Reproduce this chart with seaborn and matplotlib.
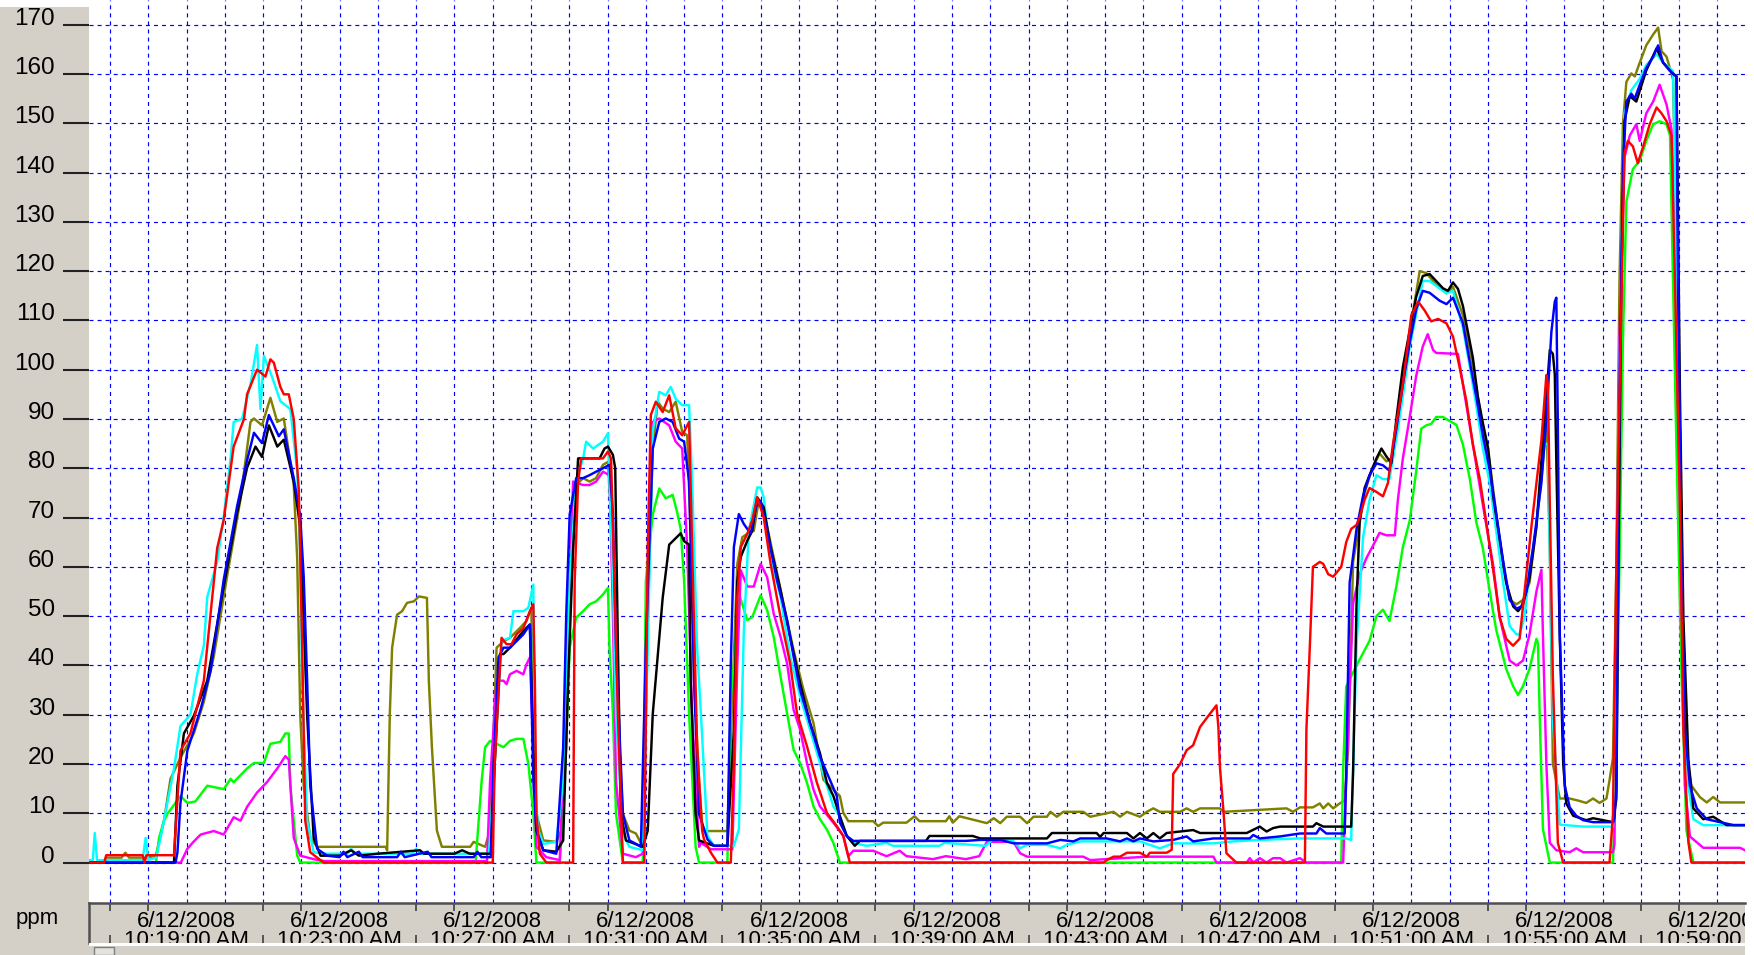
import matplotlib
matplotlib.use("Agg")
import matplotlib.pyplot as plt
import matplotlib.dates as mdates
from matplotlib.patches import Rectangle
import pandas as pd
import seaborn as sns

START = pd.Timestamp("2008-06-12 10:00:00")

# (minutes after 10:00, ppm)
olive = [(16.45, 0), (16.8, 0), (16.9, 1), (17.3, 1), (17.4, 2), (17.5, 1), (18.0, 1), (18.2, 1.5), (18.41, 8.5), (18.58, 17),
         (18.84, 21.3), (19.19, 26.2), (19.45, 32.6), (19.71, 41.8), (20.06, 58.2), (20.41, 73.8), (20.67, 89.4), (20.76, 90.1),
         (20.97, 88.7), (21.19, 94.3), (21.37, 89.4), (21.54, 90.1), (21.80, 76.6), (21.89, 61.7), (21.97, 29.8), (22.06, 15.6),
         (22.23, 5), (22.41, 3.2), (24.20, 3.2), (24.24, 2.5), (24.31, 30.1), (24.37, 43.6), (24.50, 50.3), (24.63, 51), (24.76, 52.7),
         (24.94, 53), (25.07, 54), (25.28, 53.7), (25.33, 36.9), (25.41, 23.4), (25.54, 6.5), (25.67, 3.2), (26.41, 3.2), (26.50, 4.2),
         (26.80, 3.2), (26.93, 6.5), (27.10, 43.6), (27.28, 44.9), (27.45, 45.6), (27.71, 47.6), (27.88, 49), (28.01, 51.7),
         (28.06, 23.4), (28.14, 9.9), (28.32, 4.5), (28.66, 4.2), (28.79, 6.5), (28.92, 23.4), (29.01, 50.3), (29.18, 76.6),
         (29.36, 78), (29.53, 77.3), (29.70, 78), (29.88, 80.7), (30.01, 81.3), (30.14, 63.8), (30.22, 36.9), (30.40, 9.9),
         (30.57, 6.5), (30.74, 5.9), (30.92, 3.2), (31.05, 50.3), (31.18, 84), (31.31, 93.5), (31.44, 92.1), (31.61, 91.4),
         (31.78, 93.5), (31.95, 87.4), (32.08, 86.7), (32.17, 67.2), (32.26, 36.9), (32.39, 16.6), (32.47, 7.9), (32.52, 6.4),
         (33.13, 6.4), (33.26, 33.7), (33.39, 60.6), (33.52, 66), (33.65, 66.7), (33.82, 67.3), (33.95, 73.4), (34.08, 71.4),
         (34.34, 62), (34.60, 52.5), (34.86, 43.1), (35.12, 35), (35.38, 28.3), (35.64, 16.8), (35.90, 14.8), (36.07, 13.5),
         (36.16, 10.1), (36.29, 8.4), (36.94, 8.4), (37.07, 7.4), (37.20, 8.1), (37.81, 8.1), (38.02, 9.4), (38.15, 8.4),
         (38.84, 8.4), (38.93, 9.4), (39.02, 8.1), (39.19, 9.4), (39.91, 8), (40.09, 9), (40.26, 8), (40.43, 9.3), (40.78, 9.3),
         (40.96, 8), (41.13, 9.3), (41.48, 9.3), (41.57, 10.3), (41.74, 9.3), (41.91, 10.3), (42.43, 10.3), (42.61, 9.3),
         (43.22, 10.3), (43.39, 9.3), (43.57, 10.3), (43.91, 9.3), (44.09, 10.3), (44.26, 11), (44.43, 10.3), (44.96, 10.3),
         (45.13, 11), (45.30, 10.3), (45.48, 11), (46.0, 11), (46.09, 10.3), (47.74, 11), (47.91, 10.3), (48.09, 11.2),
         (48.43, 11.2), (48.61, 12), (48.70, 11), (48.83, 12), (48.96, 11), (49.13, 12), (49.26, 12.6), (49.35, 23), (49.48, 61),
         (49.65, 69), (49.78, 75), (49.96, 79.5), (50.17, 83), (50.35, 81.4), (50.52, 82.2), (50.70, 94.6), (50.87, 103),
         (51.04, 111.4), (51.22, 120), (51.39, 119.6), (51.65, 117.3), (51.92, 115.5), (52.09, 116.8), (52.35, 111), (52.61, 100.6),
         (52.87, 88.3), (53.05, 81.3), (53.22, 70.8), (53.40, 60.3), (53.57, 53.3), (53.75, 52.4), (53.92, 53.3), (54.09, 56.8),
         (54.27, 68.2), (54.44, 81.3), (54.53, 90.1), (54.62, 63.8), (54.70, 20), (54.88, 13), (55.14, 13), (55.40, 12.5),
         (55.57, 12.1), (55.75, 13), (55.92, 12.1), (56.10, 13), (56.18, 16.7), (56.27, 21.3), (56.36, 61.1), (56.44, 118),
         (56.53, 149.8), (56.62, 158.4), (56.75, 160.1), (56.84, 159.5), (56.97, 162.3), (57.14, 165.8), (57.32, 168),
         (57.45, 169.4), (57.54, 164.6), (57.67, 163.5), (57.84, 158.9), (57.89, 140.7), (57.93, 95.2), (58.02, 61.1),
         (58.11, 38.3), (58.19, 21.3), (58.32, 15.6), (58.54, 13.3), (58.72, 12.2), (58.89, 13.3), (59.07, 12.2), (59.72, 12.2)]

green = [(16.45, 0), (18.20, 0), (18.28, 5), (18.41, 8.5), (18.50, 9.9), (18.84, 13.5), (19.02, 12.1), (19.23, 12.4), (19.54, 15.6),
         (19.97, 14.9), (20.15, 17), (20.23, 16.3), (20.58, 19.1), (20.76, 20.2), (21.02, 20.2), (21.19, 24.1), (21.45, 24.5),
         (21.58, 26.2), (21.67, 26.2), (21.71, 15.6), (21.89, 1.4), (21.97, 0), (26.55, 0), (26.71, 16.6), (26.80, 23.4),
         (26.93, 24.7), (27.10, 24.1), (27.28, 23.4), (27.45, 24.7), (27.62, 25.1), (27.80, 25.1), (27.93, 20), (28.06, 9.9),
         (28.14, 0), (28.75, 0), (28.84, 9.9), (29.01, 43.6), (29.18, 49.7), (29.36, 51), (29.53, 52.4), (29.70, 53), (29.88, 54.4),
         (30.01, 55.7), (30.05, 43.6), (30.14, 30.1), (30.22, 9.9), (30.40, 0), (30.92, 0), (31.0, 57.1), (31.18, 70.6),
         (31.35, 75.9), (31.52, 73.9), (31.70, 74.6), (31.82, 71), (31.91, 67.7), (32.0, 57.1), (32.13, 30.1), (32.30, 3.2),
         (32.39, 0), (33.13, 0), (33.22, 33.7), (33.46, 53.9), (33.65, 49.2), (33.78, 49.8), (34.0, 54.2), (34.17, 51.2),
         (34.34, 45.8), (34.52, 37.7), (34.69, 30.3), (34.86, 22.9), (35.03, 20.2), (35.21, 16.2), (35.38, 11.4), (35.55, 8.8),
         (35.73, 6.7), (35.90, 4), (36.07, 0), (49.17, 0), (49.22, 18.9), (49.30, 35.7), (49.57, 40), (49.74, 42.5), (49.91, 45),
         (50.09, 50), (50.26, 51.3), (50.43, 49), (50.61, 56), (50.78, 64), (50.96, 69.4), (51.13, 79.5), (51.26, 88), (51.39, 88.7),
         (51.52, 89), (51.65, 90.4), (51.83, 90.4), (52.0, 89.6), (52.18, 88.8), (52.35, 84.8), (52.53, 77.8), (52.70, 69),
         (52.87, 63.8), (53.05, 55), (53.22, 47.2), (53.48, 39.3), (53.66, 35.8), (53.79, 34), (53.92, 35.8), (54.09, 39.3),
         (54.27, 45.4), (54.31, 44.5), (54.36, 28.7), (54.44, 6.8), (54.62, 0), (56.27, 0), (56.36, 26.2), (56.44, 60.3),
         (56.53, 105.8), (56.62, 134.1), (56.79, 140.7), (56.97, 142.4), (57.14, 146.4), (57.32, 149.8), (57.49, 150.4),
         (57.67, 149.8), (57.76, 147.5), (57.84, 117.9), (57.93, 83.8), (58.06, 38.3), (58.19, 6.5), (58.37, 0), (59.72, 0)]

magenta = [(16.45, 0), (18.85, 0), (19.02, 2.8), (19.19, 4.3), (19.37, 5.7), (19.71, 6.4), (19.97, 5.7), (20.23, 9.2), (20.41, 8.5),
           (20.58, 11.3), (20.84, 14.2), (21.10, 16.3), (21.37, 19.1), (21.58, 21.6), (21.67, 20.9), (21.80, 5), (21.97, 1.4),
           (22.32, 0.7), (22.6, 0.3), (26.85, 0.3), (26.93, 16.6), (27.10, 36.9), (27.28, 36.9), (27.36, 36.2), (27.45, 38.2),
           (27.62, 38.9), (27.80, 38.2), (27.88, 40.2), (27.97, 41.6), (28.06, 23.4), (28.14, 3.2), (28.40, 1.1), (28.75, 0.5),
           (28.92, 36.9), (29.10, 77.3), (29.36, 76.6), (29.53, 76.6), (29.70, 77.3), (29.88, 79.3), (30.05, 78.6), (30.14, 50.3),
           (30.22, 16.6), (30.40, 1.8), (30.74, 1.1), (30.92, 1.8), (31.0, 43.6), (31.18, 89.4), (31.35, 90.1), (31.61, 88.7),
           (31.78, 85.4), (31.95, 84), (32.08, 63.8), (32.21, 30.1), (32.39, 3.2), (32.44, 4), (32.70, 2.7), (33.26, 2.7),
           (33.39, 40.4), (33.48, 59.3), (33.65, 56), (33.82, 56), (34.0, 60.6), (34.17, 57.9), (34.34, 50.5), (34.52, 45.8),
           (34.69, 40.4), (34.86, 31), (35.03, 27), (35.21, 20.2), (35.38, 14.8), (35.55, 11.4), (35.90, 8.1), (36.16, 5.4),
           (36.29, 1.3), (36.42, 2.4), (36.94, 2.4), (37.29, 1.3), (37.63, 2.4), (37.81, 1.3), (38.50, 0.7), (38.84, 1.3),
           (39.36, 0.7), (39.71, 1.3), (39.80, 2.6), (39.91, 4.2), (40.61, 4.2), (40.78, 1.9), (40.96, 1.2), (42.43, 1.2),
           (42.61, 0.5), (44.09, 1.2), (45.83, 1.2), (45.91, 0), (46.70, 0), (46.78, 0.9), (46.87, 0), (47.04, 0.9), (47.22, 0),
           (47.39, 0.9), (47.57, 0.9), (47.74, 0), (48.09, 0.9), (48.26, 0), (49.22, 0), (49.35, 27), (49.48, 52.6), (49.65, 58.5),
           (49.83, 61.8), (50.0, 64.3), (50.17, 66.9), (50.35, 66.4), (50.57, 66.4), (50.65, 73.6), (50.78, 82), (50.96, 90.4),
           (51.13, 98.8), (51.30, 104.7), (51.43, 107.2), (51.57, 104), (51.65, 103.4), (52.22, 103.2), (52.35, 97), (52.61, 84.8),
           (52.87, 72.6), (53.14, 60.3), (53.31, 49.8), (53.57, 41), (53.75, 40), (53.92, 41), (54.09, 46.3), (54.27, 55),
           (54.40, 59.4), (54.44, 46.3), (54.53, 20), (54.62, 4), (54.79, 2.5), (55.14, 2.1), (55.31, 2.9), (55.49, 2.1),
           (56.27, 2.1), (56.31, 3.7), (56.36, 49), (56.44, 106), (56.57, 143), (56.71, 147.5), (56.88, 149.8), (56.97, 146.4),
           (57.14, 152), (57.32, 154.4), (57.49, 157.8), (57.67, 153.8), (57.80, 148.7), (57.89, 129.4), (58.02, 72.5),
           (58.15, 15.6), (58.28, 5.3), (58.63, 3), (59.59, 3), (59.72, 2.5)]

cyan = [(16.45, 0.5), (16.55, 0.5), (16.60, 6), (16.66, 0.5), (17.85, 0.5), (17.93, 5), (18.0, 0.5), (18.20, 1), (18.32, 5),
        (18.67, 19), (18.84, 27.7), (19.10, 30), (19.28, 38.3), (19.45, 44), (19.54, 53.9), (19.80, 61), (19.97, 70.2), (20.15, 82),
        (20.23, 89.4), (20.45, 90), (20.67, 97), (20.84, 105), (20.93, 92), (21.02, 102.8), (21.23, 98.6), (21.45, 93.6),
        (21.71, 92), (21.89, 79.4), (21.97, 61.7), (22.02, 36.9), (22.15, 8.5), (22.32, 2.1), (22.6, 1.8), (23.2, 1.8), (23.3, 2.8),
        (23.4, 1.8), (24.9, 1.8), (25.0, 2.8), (25.1, 1.8), (26.9, 1.8), (26.97, 10), (27.23, 45), (27.45, 45.6), (27.54, 51),
        (27.80, 51), (27.93, 51.7), (28.06, 56.4), (28.10, 16.6), (28.19, 6.5), (28.32, 3.8), (28.66, 4.2), (28.84, 16.6),
        (29.01, 57.1), (29.18, 77.3), (29.36, 82), (29.44, 85.4), (29.62, 84), (29.88, 85.4), (30.01, 87.1), (30.05, 77.3),
        (30.14, 57.1), (30.22, 30.1), (30.40, 5.9), (30.57, 3.2), (30.92, 2.5), (31.05, 43.6), (31.18, 87.4), (31.35, 95.5),
        (31.52, 94.8), (31.65, 96.5), (31.78, 94.1), (31.95, 92.8), (32.13, 92.8), (32.21, 77.3), (32.34, 43.6), (32.44, 30),
        (32.61, 5.4), (32.78, 3.4), (33.30, 3.4), (33.43, 6.7), (33.56, 47), (33.69, 67.3), (33.91, 76.1), (34.0, 76.1),
        (34.08, 74.1), (34.26, 62), (34.52, 53.9), (34.77, 41.8), (35.03, 33.7), (35.29, 27), (35.55, 20.2), (35.90, 11.4),
        (36.07, 9.4), (36.25, 5.4), (36.42, 4), (36.77, 3.4), (37.29, 4), (37.46, 3.4), (38.67, 3.4), (38.80, 4), (39.88, 3.4),
        (40.06, 4.7), (40.61, 4.3), (40.78, 2.9), (40.96, 3.6), (41.48, 3.6), (41.83, 2.9), (42.0, 3.6), (42.35, 4.3),
        (43.91, 4.3), (44.43, 2.9), (44.78, 3.9), (45.83, 3.9), (46.35, 4.3), (47.04, 4.6), (48.09, 4.9), (49.30, 4.9),
        (49.43, 4.6), (49.48, 19), (49.57, 44), (49.74, 66), (49.91, 73.6), (50.09, 78.6), (50.26, 77.8), (50.43, 77.8),
        (50.61, 86), (50.78, 94.6), (50.96, 104.7), (51.13, 111.4), (51.30, 118), (51.48, 118), (51.74, 116.5), (51.92, 115.5),
        (52.09, 116), (52.35, 108.5), (52.53, 100.6), (52.70, 92.7), (52.87, 84), (53.05, 77), (53.22, 67.3), (53.40, 56.8),
        (53.57, 48), (53.75, 46.3), (53.83, 46.3), (53.96, 49.8), (54.09, 59.4), (54.27, 68.2), (54.44, 84.8), (54.57, 85),
        (54.62, 63.8), (54.70, 28.7), (54.88, 7.7), (55.49, 7.3), (56.27, 7.3), (56.31, 20.8), (56.40, 77.6), (56.49, 123),
        (56.57, 152), (56.75, 156.7), (56.97, 159), (57.14, 161.8), (57.41, 164), (57.58, 162.3), (57.84, 160.6), (57.89, 140.7),
        (57.97, 95.2), (58.11, 38.3), (58.24, 15.6), (58.37, 8.8), (58.63, 7.6), (59.72, 7.6)]

black = [(16.45, 0), (18.67, 0), (18.76, 15.6), (18.93, 26.2), (19.19, 29.8), (19.54, 36.9), (19.97, 56), (20.32, 70.9),
         (20.58, 80.1), (20.80, 84.4), (20.97, 82.3), (21.15, 88.7), (21.37, 84.4), (21.54, 85.8), (21.80, 77.3), (21.97, 68.1),
         (22.15, 29.8), (22.32, 5), (22.50, 1.4), (23.0, 1.4), (23.3, 2.5), (23.5, 1.4), (24.0, 1.8), (25.1, 2.5), (25.2, 1.8),
         (26.0, 1.8), (26.2, 2.5), (26.4, 1.8), (26.95, 1.8), (27.02, 15), (27.19, 42.3), (27.28, 42.3), (27.45, 43.6), (27.80, 47),
         (27.97, 48.3), (28.06, 23.4), (28.14, 6.5), (28.32, 2.5), (28.66, 2.2), (28.84, 4.5), (28.97, 36.9), (29.10, 63.8),
         (29.23, 82), (29.79, 82), (29.92, 84), (30.01, 84.4), (30.14, 82.7), (30.20, 80), (30.27, 43.6), (30.35, 9.9), (30.48, 4.5),
         (30.92, 3.2), (31.05, 6.5), (31.18, 30.1), (31.44, 53.7), (31.61, 64.5), (31.78, 65.8), (31.91, 66.8), (32.0, 65.2),
         (32.13, 64.5), (32.17, 36.9), (32.30, 9.9), (32.39, 4.5), (32.78, 3.4), (33.13, 3.4), (33.30, 26.9), (33.39, 57.2),
         (33.48, 62), (33.65, 65.3), (33.78, 67.3), (33.91, 74.1), (34.08, 72.1), (34.26, 64), (34.52, 55.2), (34.77, 45.8),
         (35.03, 36.4), (35.29, 28.3), (35.55, 22.2), (35.73, 16.2), (35.90, 13.5), (36.07, 9.4), (36.25, 5.4), (36.46, 3.4),
         (36.59, 4.4), (38.32, 4.4), (38.41, 5.4), (39.54, 5.4), (39.74, 4.9), (41.48, 4.9), (41.61, 6), (42.78, 6), (42.87, 5.2),
         (42.96, 6), (43.57, 6), (43.74, 4.9), (43.91, 6), (44.09, 4.9), (44.26, 6), (44.43, 4.9), (44.61, 6), (45.30, 6.6),
         (45.48, 6), (46.70, 6), (47.04, 7.3), (47.22, 6.3), (47.39, 7), (47.57, 7.3), (48.43, 7.3), (48.52, 8), (48.70, 7.3),
         (49.43, 7.3), (49.48, 18.5), (49.57, 52.6), (49.65, 69), (49.78, 76), (49.91, 78.6), (50.09, 82), (50.22, 84),
         (50.35, 82.4), (50.48, 81), (50.61, 90), (50.78, 100.5), (50.96, 108), (51.13, 114.8), (51.30, 119), (51.48, 119.4),
         (51.65, 118), (51.83, 116.5), (51.96, 116), (52.09, 117.7), (52.22, 116.4), (52.35, 112.9), (52.48, 107.6),
         (52.61, 102.4), (52.74, 94.5), (52.87, 89.2), (53.01, 84), (53.14, 74.3), (53.31, 65.6), (53.48, 56.8), (53.66, 52),
         (53.79, 51), (53.92, 52.4), (54.09, 57.7), (54.27, 68.2), (54.40, 81.3), (54.53, 94.5), (54.62, 104), (54.70, 103.2),
         (54.75, 99), (54.79, 81.3), (54.88, 46), (54.97, 20), (55.05, 12), (55.23, 9.5), (55.57, 8.6), (55.75, 9), (56.27, 8.2),
         (56.36, 13), (56.40, 50.4), (56.49, 118.5), (56.57, 150.4), (56.71, 155.5), (56.88, 154.4), (57.14, 160.7),
         (57.41, 165.2), (57.58, 162.3), (57.84, 160), (57.93, 159.5), (58.02, 95), (58.11, 49.6), (58.24, 21), (58.37, 11),
         (58.63, 8.8), (58.89, 9.3), (59.24, 7.6), (59.72, 7.6)]

blue = [(16.45, 0), (18.71, 0), (18.76, 2), (18.84, 12.1), (19.02, 22.7), (19.37, 31.2), (19.63, 39), (19.97, 57.4), (20.32, 72.3),
        (20.58, 81.6), (20.76, 87.2), (20.97, 85.1), (21.15, 90.8), (21.41, 86.5), (21.54, 87.9), (21.80, 78), (21.97, 70.2),
        (22.06, 58), (22.15, 36.9), (22.23, 15.6), (22.41, 2.8), (22.67, 1.4), (23.0, 1.1), (23.1, 2.2), (23.2, 1.1), (23.5, 2.2),
        (23.6, 1.1), (24.5, 1.1), (24.6, 2.2), (24.7, 1.1), (25.3, 2.2), (25.4, 1.1), (26.5, 1.1), (26.6, 2.2), (26.7, 1.1),
        (26.95, 1.1), (27.02, 20), (27.15, 41.6), (27.28, 43.6), (27.45, 43.6), (27.62, 44.9), (27.80, 46.3), (27.97, 48.3),
        (28.06, 16.6), (28.14, 6.5), (28.32, 2.5), (28.66, 1.8), (28.84, 23.4), (28.92, 50.3), (29.01, 70.6), (29.18, 78),
        (29.36, 78), (29.53, 78.6), (29.70, 79.3), (29.88, 80), (30.05, 80.7), (30.14, 70.6), (30.22, 43.6), (30.40, 9.9),
        (30.57, 4.5), (30.74, 3.8), (30.87, 3.2), (31.0, 43.6), (31.18, 84), (31.35, 89.4), (31.52, 90.1), (31.70, 89.4),
        (31.87, 86), (32.0, 85.4), (32.13, 77.3), (32.26, 36.9), (32.39, 9.9), (32.61, 4.7), (32.78, 3.4), (33.13, 3.4),
        (33.22, 40.4), (33.30, 64), (33.43, 70.7), (33.56, 68.7), (33.74, 66.7), (33.87, 72.1), (34.0, 73.4), (34.17, 67.3),
        (34.43, 57.2), (34.69, 49.2), (34.86, 41.8), (35.03, 35), (35.29, 28.3), (35.55, 21.5), (35.81, 16.8), (35.99, 13.5),
        (36.07, 8.1), (36.25, 5.4), (36.42, 4.4), (39.36, 4.4), (39.74, 4.6), (40.26, 4.6), (40.61, 3.9), (41.48, 3.9),
        (41.83, 4.6), (42.17, 4.3), (42.35, 4.9), (43.04, 4.9), (43.39, 4.3), (43.57, 4.9), (43.74, 4.3), (43.91, 4.9),
        (44.26, 4.3), (44.78, 4.6), (45.13, 5.3), (45.30, 4.3), (45.83, 4.9), (46.78, 4.9), (46.87, 5.6), (47.04, 4.9),
        (47.57, 5.3), (48.09, 5.9), (48.52, 5.9), (48.61, 7), (48.78, 5.9), (49.26, 5.9), (49.30, 18), (49.39, 56.8),
        (49.57, 67.7), (49.74, 74.4), (49.91, 78.6), (50.09, 81), (50.26, 80.6), (50.43, 79.5), (50.61, 88), (50.78, 97),
        (50.96, 105.5), (51.13, 112.3), (51.30, 116), (51.48, 115.6), (51.74, 114), (51.92, 113.3), (52.09, 114.6),
        (52.35, 109.4), (52.53, 101.5), (52.70, 94.5), (52.87, 86.6), (53.05, 79.6), (53.22, 70.8), (53.40, 61.2), (53.57, 53.3),
        (53.75, 51.5), (53.88, 52), (54.01, 55), (54.18, 63.8), (54.40, 77), (54.53, 90), (54.66, 107.6), (54.75, 113.8),
        (54.79, 114.6), (54.83, 88.5), (54.88, 46.3), (55.01, 15.6), (55.14, 11.2), (55.31, 9.5), (55.49, 8.6), (55.75, 8.2),
        (56.27, 8.2), (56.31, 9), (56.36, 15.6), (56.44, 95), (56.53, 140.7), (56.62, 154.4), (56.75, 156), (56.84, 155),
        (56.97, 157.8), (57.14, 161.2), (57.32, 163.5), (57.45, 165.8), (57.58, 162.3), (57.76, 160.6), (57.93, 159.5),
        (57.97, 117.8), (58.06, 61), (58.15, 27), (58.28, 15.6), (58.46, 11), (58.72, 8.8), (59.07, 8.2), (59.42, 7.6), (59.72, 7.6)]

red = [(16.45, 0), (16.85, 0), (16.9, 1.5), (17.85, 1.5), (17.9, 0), (17.95, 1.5), (18.62, 1.5), (18.67, 1.4), (18.84, 22.7),
       (19.10, 26.2), (19.45, 36.9), (19.80, 63.8), (19.97, 69.5), (20.23, 84.4), (20.50, 90), (20.58, 95), (20.84, 100),
       (21.06, 98.6), (21.19, 102.1), (21.28, 101.4), (21.45, 96.5), (21.54, 95), (21.67, 95), (21.80, 90), (21.93, 75.9),
       (22.02, 44), (22.10, 8.5), (22.23, 2.1), (22.58, 0), (27.0, 0), (27.05, 20), (27.23, 45.6), (27.36, 44.3), (27.49, 44.3),
       (27.62, 46.3), (27.80, 47.6), (27.97, 51), (28.06, 52.4), (28.10, 36.9), (28.14, 9.9), (28.23, 1.8), (28.40, 0), (29.10, 0),
       (29.14, 57), (29.23, 77.3), (29.31, 82), (29.88, 82), (30.01, 83.4), (30.09, 82), (30.18, 57), (30.27, 30.1), (30.40, 0),
       (30.96, 0), (31.05, 63.8), (31.13, 90.8), (31.26, 93.5), (31.44, 91.4), (31.61, 94.8), (31.78, 88.1), (31.95, 86.7),
       (32.13, 89.4), (32.21, 63.8), (32.34, 23.4), (32.47, 6.5), (32.52, 4.7), (32.70, 2), (32.87, 0), (33.22, 0), (33.30, 20.2),
       (33.39, 53.9), (33.48, 64), (33.65, 66.7), (33.78, 69.4), (33.91, 74.1), (34.08, 70), (34.26, 60.6), (34.52, 49.8),
       (34.77, 40.4), (34.95, 30.3), (35.21, 23.6), (35.47, 16.2), (35.73, 10.1), (35.99, 7.4), (36.16, 5.4), (36.33, 0),
       (42.96, 0), (43.04, 0.5), (43.22, 1.2), (43.39, 1.2), (43.57, 2), (43.91, 2), (44.09, 1.2), (44.17, 2), (44.61, 2),
       (44.74, 2.6), (44.78, 18), (44.96, 20), (45.13, 22.8), (45.30, 23.8), (45.48, 27.5), (45.74, 30.2), (45.91, 31.9),
       (45.96, 27.5), (46.0, 19.4), (46.09, 10.7), (46.17, 1.9), (46.43, 0), (48.22, 0), (48.26, 27), (48.35, 44), (48.43, 60),
       (48.61, 61), (48.70, 60.6), (48.83, 58.5), (48.96, 58), (49.17, 60), (49.30, 65), (49.43, 67.7), (49.57, 68.5),
       (49.65, 70), (49.78, 73.6), (49.91, 76), (50.09, 75.2), (50.26, 74.3), (50.39, 77), (50.52, 84.8), (50.78, 97), (51.0, 111),
       (51.18, 113.8), (51.35, 112), (51.52, 109.8), (51.70, 110.3), (51.92, 109.4), (52.09, 106.7), (52.26, 100.6),
       (52.44, 93.6), (52.61, 84.8), (52.79, 77.8), (52.96, 69), (53.14, 59.4), (53.31, 49.8), (53.48, 45.4), (53.66, 44),
       (53.83, 45.4), (53.96, 55), (54.14, 68.2), (54.40, 85.7), (54.53, 98.9), (54.57, 97), (54.62, 72.6), (54.70, 37.5),
       (54.83, 4), (54.97, 0), (56.18, 0), (56.27, 9.7), (56.36, 60.9), (56.44, 95), (56.57, 144), (56.66, 146.4), (56.79, 145.3),
       (56.92, 141.9), (57.06, 145.3), (57.23, 149.8), (57.41, 153.2), (57.54, 152), (57.67, 150.4), (57.80, 147.5),
       (57.89, 117.9), (58.02, 72.4), (58.11, 27), (58.24, 4.2), (58.32, 0), (59.72, 0)]

colors = {"olive": "#808000", "green": "#00FF00", "magenta": "#FF00FF", "cyan": "#00FFFF",
          "black": "#000000", "blue": "#0000FF", "red": "#FF0000"}
traces = {"olive": olive, "green": green, "magenta": magenta, "cyan": cyan,
          "black": black, "blue": blue, "red": red}

frames = []
for name, pts in traces.items():
    d = pd.DataFrame(pts, columns=["minute", "ppm"])
    d["sensor"] = name
    frames.append(d)
df = pd.concat(frames, ignore_index=True)
df["time"] = START + pd.to_timedelta(df["minute"], unit="min")

W, H = 1754, 955
PANEL = "#D4D0C8"


def box(x0, y0, x1, y1):
    # pixel box (top-left origin) -> figure fraction rect
    return [x0 / W, 1 - y1 / H, (x1 - x0) / W, (y1 - y0) / H]


plt.rcParams["font.family"] = ["Liberation Sans Narrow", "Liberation Sans", "DejaVu Sans"]
plt.rcParams["lines.scale_dashes"] = False

fig = plt.figure(figsize=(W / 100, H / 100), dpi=100, facecolor="white")
fig.add_artist(Rectangle((0, 0), 89 / W, 1 - 7 / H, transform=fig.transFigure,
                         facecolor=PANEL, edgecolor="none", zorder=-5))

# main plot
ax = fig.add_axes(box(89, 0, 1745, 903))
sns.lineplot(data=df, x="time", y="ppm", hue="sensor", hue_order=list(colors), palette=colors,
             estimator=None, sort=False, linewidth=1.75, legend=False, ax=ax)
xlim = (START + pd.Timedelta(minutes=16.45), START + pd.Timedelta(minutes=59.72))
ax.set_xlim(xlim)
ax.set_ylim(-8.2, 175)
ax.set_yticks(range(0, 171, 10))
ax.xaxis.set_major_locator(mdates.MinuteLocator())
ax.grid(True, color="#0000FF", linestyle=(0, (2.9, 2.9)), linewidth=0.85)
ax.tick_params(axis="x", length=0, labelbottom=False)
ax.tick_params(axis="y", length=18.7, width=1.5, pad=5.8, direction="out",
               color="#222222", labelsize=17.5, labelcolor="black")
for t in ax.yaxis.get_major_ticks():
    t.label1.set_verticalalignment("baseline")
for s in ax.spines.values():
    s.set_visible(False)
ax.set_xlabel("")
ax.set_ylabel("")

# bottom time strip
strip = fig.add_axes(box(89, 903, 1745, 943), facecolor=PANEL)
strip.set_xlim(xlim)
strip.set_ylim(0, 1)
strip.set_yticks([])
strip.xaxis.set_major_locator(mdates.MinuteLocator(byminute=range(1, 60, 4)))
strip.xaxis.set_minor_locator(mdates.MinuteLocator(byminute=range(2, 60, 4)))
strip.tick_params(which="major", direction="in", top=True, bottom=True, length=5.5,
                  width=1.2, color="#404040", labelbottom=False)
strip.tick_params(which="minor", direction="in", top=True, bottom=False, length=5.5,
                  width=1.2, color="#404040")
for s in ["right", "bottom"]:
    strip.spines[s].set_visible(False)
for s in ["top", "left"]:
    strip.spines[s].set_color("#505050")
    strip.spines[s].set_linewidth(1.8)

# clipped two-line time labels
lab = fig.add_axes(box(89, 911, 1745, 943))
lab.set_xlim(xlim)
lab.set_axis_off()
label_times = pd.date_range(START + pd.Timedelta(minutes=19), START + pd.Timedelta(minutes=59), freq="4min")
for ts in label_times:
    xv = mdates.date2num(ts)
    lab.text(xv, (943 - 927) / 32, f"{ts.month}/{ts.day}/{ts.year}",
             transform=lab.get_xaxis_transform(), ha="center", va="baseline",
             fontsize=16, clip_on=True)
    lab.text(xv, (943 - 946) / 32, ts.strftime("%I:%M:%S %p").lstrip("0"),
             transform=lab.get_xaxis_transform(), ha="center", va="baseline",
             fontsize=16, clip_on=True)

fig.text(37 / W, 1 - 924 / H, "ppm", ha="center", va="baseline", fontsize=16)

# scroll bar remnant under the strip
fig.add_artist(Rectangle((89 / W, 1 - 946 / H), (1745 - 89) / W, 3 / H, transform=fig.transFigure,
                         facecolor="white", edgecolor="none", zorder=3))
fig.add_artist(Rectangle((89 / W, 0), (1745 - 89) / W, 1 - 946 / H, transform=fig.transFigure,
                         facecolor=PANEL, edgecolor="none", zorder=3))
fig.add_artist(Rectangle((94 / W, 0), 20 / W, 1 - 947 / H, transform=fig.transFigure,
                         facecolor="#E4E2DC", edgecolor="#808080", linewidth=1, zorder=4))
# top edge of the window hides the top of the "170" label
fig.add_artist(Rectangle((0, 1 - 7 / H), 89 / W, 7 / H, transform=fig.transFigure,
                         facecolor="white", edgecolor="none", zorder=5))

fig.savefig("out.png", dpi=100, facecolor="white")
